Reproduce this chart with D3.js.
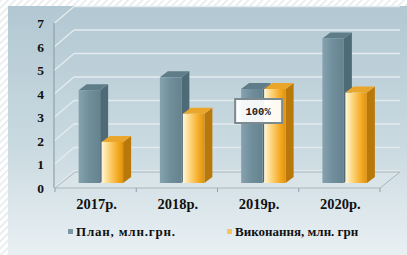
<!DOCTYPE html>
<html>
<head>
<meta charset="utf-8">
<script src="https://d3js.org/d3.v7.min.js"></script>
<style>
  body { margin: 0; background: #fff; }
  svg { display: block; }
</style>
</head>
<body>
<div id="chart"></div>
<script>
// data
var years = ["2017р.", "2018р.", "2019р.", "2020р."];
var planValues = [3.95, 4.5, 4.0, 6.15];
var execValues = [1.75, 2.95, 4.0, 3.85];
var yTicks = [0, 1, 2, 3, 4, 5, 6, 7];
var seriesNames = ["План, млн.грн.", "Виконання, млн. грн"];

var W = 407, H = 255;
var serif = "'Liberation Serif', 'Times New Roman', 'DejaVu Serif', serif";
// 3d offsets: back wall and bar depth
var wallDx = 20, wallDy = -16;
var barDx = 5, barDy = -4;
var depthDx = 8, depthDy = -6;

var svg = d3.select("#chart").append("svg").attr("width", W).attr("height", H);
var defs = svg.append("defs");

// hatched border pattern
var pat = defs.append("pattern").attr("id", "hatch").attr("patternUnits", "userSpaceOnUse")
  .attr("width", 5).attr("height", 5).attr("patternTransform", "rotate(45)");
pat.append("rect").attr("width", 5).attr("height", 5).attr("fill", "#ffffff");
pat.append("rect").attr("width", 1.5).attr("height", 5).attr("fill", "#e6e9ec");

function lin(id, x2, y2, stops) {
  var g = defs.append("linearGradient").attr("id", id)
    .attr("x1", 0).attr("y1", 0).attr("x2", x2).attr("y2", y2);
  stops.forEach(function (s) { g.append("stop").attr("offset", s[0]).attr("stop-color", s[1]); });
}
lin("bg", 0, 1, [[0, "#b2c8d2"], [0.55, "#c9d9e0"], [1, "#e9f0f3"]]);
lin("planFront", 1, 0, [[0, "#86a2af"], [0.5, "#6f8d9b"], [1, "#66838f"]]);
lin("execFront", 1, 0, [[0, "#fff7dc"], [0.35, "#fcd478"], [0.75, "#f5a923"], [1, "#de930f"]]);

svg.append("rect").attr("width", W).attr("height", H).attr("fill", "url(#hatch)");
svg.append("rect").attr("x", 8).attr("y", 6).attr("width", W - 8).attr("height", H - 6).attr("fill", "url(#bg)");

// scales
var y = d3.scaleLinear().domain([0, 7]).range([187, 22.5]);
var x = d3.scaleBand().domain(years).range([55, 380]).paddingInner(0).paddingOuter(0);
var axisX = 54;

// back wall gridlines and diagonals
var grid = svg.append("g");
yTicks.forEach(function (t) {
  grid.append("line")
    .attr("x1", axisX + wallDx).attr("x2", 400)
    .attr("y1", y(t) + wallDy).attr("y2", y(t) + wallDy)
    .attr("stroke", "#e3ebee").attr("stroke-width", 1.6);
  grid.append("line")
    .attr("x1", axisX).attr("x2", axisX + wallDx)
    .attr("y1", y(t) + 1).attr("y2", y(t) + wallDy)
    .attr("stroke", "#e3ebee").attr("stroke-width", 1.4);
});

// floor
var f0 = y(0) + 1;
svg.append("path")
  .attr("d", "M" + x.range()[0] + "," + f0 + "L" + x.range()[1] + "," + f0 +
    "L" + (x.range()[1] + wallDx) + "," + (f0 + wallDy) + "L" + (x.range()[0] + wallDx) + "," + (f0 + wallDy) + "Z")
  .attr("fill", "#dde7eb").attr("fill-opacity", 0.5)
  .attr("stroke", "#a7b6bd").attr("stroke-width", 1);

// vertical axis line
svg.append("line").attr("x1", axisX).attr("x2", axisX).attr("y1", y(7)).attr("y2", f0)
  .attr("stroke", "#8fa1aa").attr("stroke-width", 1.2);

// ticks along floor front
years.concat(["end"]).forEach(function (d, i) {
  var tx = i < years.length ? x(d) : x.range()[1];
  svg.append("line").attr("x1", tx).attr("x2", tx).attr("y1", f0).attr("y2", f0 + 4)
    .attr("stroke", "#8fa1aa").attr("stroke-width", 1);
});

// y labels
var yAxis = svg.append("g").attr("transform", "translate(44,0)")
  .call(d3.axisLeft(y).tickValues(yTicks).tickSize(0).tickPadding(0).tickFormat(d3.format("d")));
yAxis.select(".domain").remove();
yAxis.attr("font-family", null).attr("font-size", null);
yAxis.selectAll("text").style("font-family", serif).style("font-weight", "bold")
  .style("font-size", "13.5px").style("fill", "#111").attr("dy", "0.4em");

// x labels
var xAxis = svg.append("g").attr("transform", "translate(0," + 196 + ")")
  .call(d3.axisBottom(x).tickSize(0).tickPadding(0));
xAxis.select(".domain").remove();
xAxis.attr("font-family", null).attr("font-size", null);
xAxis.selectAll("text").style("font-family", serif).style("font-weight", "bold")
  .style("font-size", "14.5px").style("fill", "#111").attr("dy", "0.9em").attr("dx", "1");

// 3d bars
var bw = 21.5;
function bar(g, x0, v, front, side, top) {
  var base = y(0) + barDy, topY = base - (y(0) - y(v));
  var x1 = x0 + bw;
  g.append("path")
    .attr("d", "M" + x1 + "," + topY + "L" + (x1 + depthDx) + "," + (topY + depthDy) +
      "L" + (x1 + depthDx) + "," + (base + depthDy) + "L" + x1 + "," + base + "Z")
    .attr("fill", side);
  g.append("path")
    .attr("d", "M" + x0 + "," + topY + "L" + (x0 + depthDx) + "," + (topY + depthDy) +
      "L" + (x1 + depthDx) + "," + (topY + depthDy) + "L" + x1 + "," + topY + "Z")
    .attr("fill", top);
  g.append("rect").attr("x", x0).attr("y", topY).attr("width", bw).attr("height", base - topY)
    .attr("fill", front);
}
var bars = svg.append("g");
years.forEach(function (d, i) {
  var c = x(d) + x.bandwidth() / 2 + barDx;
  bar(bars, c - bw - 0.5, planValues[i], "url(#planFront)", "#4f6a77", "#5f7c89");
  bar(bars, c + 1, execValues[i], "url(#execFront)", "#b9790a", "#eaa62a");
});

// 100% data label on 2019
var lx = x(years[2]) + x.bandwidth() / 2, ly = 111;
svg.append("rect").attr("x", lx - 23).attr("y", ly - 12).attr("width", 47).attr("height", 24)
  .attr("fill", "#ffffff").attr("fill-opacity", 0.92)
  .attr("stroke", "#7b8a90").attr("stroke-width", 2);
svg.append("text").attr("x", lx).attr("y", ly + 4).attr("text-anchor", "middle")
  .style("font-family", "'Liberation Mono', 'DejaVu Sans Mono', monospace")
  .style("font-weight", "bold").style("font-size", "10.5px").style("fill", "#222")
  .text("100%");

// legend
var legend = svg.append("g");
var legX = [68, 227], legColor = ["#7d98a5", "#f6c563"], legSpacing = ["0.8px", "0px"];
seriesNames.forEach(function (n, i) {
  legend.append("rect").attr("x", legX[i]).attr("y", 229).attr("width", 5).attr("height", 5)
    .attr("fill", legColor[i]);
  legend.append("text").attr("x", legX[i] + 8).attr("y", 236)
    .style("font-family", serif).style("font-weight", "bold").style("fill", "#111")
    .style("letter-spacing", legSpacing[i])
    .style("font-size", "13px").text(n);
});
</script>
</body>
</html>
